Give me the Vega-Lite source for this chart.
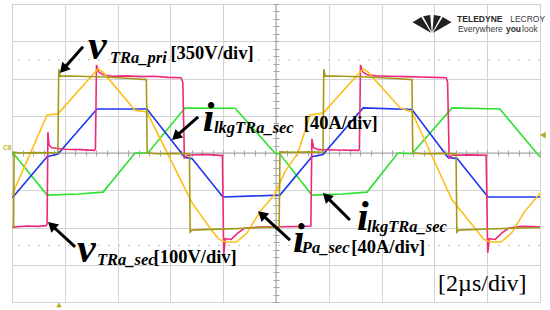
{
"$schema":"https://vega.github.io/schema/vega-lite/v6.json",
"width":528,"height":298,
"autosize":{"type":"none"},
"padding":{"left":12,"top":4,"right":10,"bottom":8},
"background":"white",
"config":{"view":{"stroke":"#9c9c9c","strokeWidth":1},"axis":{"title":null,"labels":false}},
"datasets":{
"traces":[
{"s":"a_green","t":0,"v":0},{"s":"a_green","t":0.04,"v":0},{"s":"a_green","t":1.33,"v":-1.13},{"s":"a_green","t":2.5,"v":-1.1},{"s":"a_green","t":3.45,"v":-1.05},{"s":"a_green","t":4.66,"v":0},{"s":"a_green","t":5.15,"v":0},{"s":"a_green","t":6.55,"v":1.21},{"s":"a_green","t":8.45,"v":1.2},{"s":"a_green","t":9.96,"v":0},{"s":"a_green","t":10.15,"v":-0.03},{"s":"a_green","t":11.36,"v":-1.13},{"s":"a_green","t":12.5,"v":-1.1},{"s":"a_green","t":13.45,"v":-1.05},{"s":"a_green","t":14.62,"v":0},{"s":"a_green","t":15.15,"v":-0.02},{"s":"a_green","t":16.67,"v":1.21},{"s":"a_green","t":18.48,"v":1.18},{"s":"a_green","t":20,"v":-0.11},
{"s":"b_blue","t":0,"v":-1.18},{"s":"b_blue","t":0.04,"v":-1.18},{"s":"b_blue","t":1.33,"v":-0.1},{"s":"b_blue","t":1.74,"v":-0.03},{"s":"b_blue","t":3.22,"v":1.18},{"s":"b_blue","t":5.11,"v":1.18},{"s":"b_blue","t":6.55,"v":-0.12},{"s":"b_blue","t":6.82,"v":-0.15},{"s":"b_blue","t":7.99,"v":-1.18},{"s":"b_blue","t":10.15,"v":-1.13},{"s":"b_blue","t":11.36,"v":-0.1},{"s":"b_blue","t":11.78,"v":-0.04},{"s":"b_blue","t":13.3,"v":1.21},{"s":"b_blue","t":15.15,"v":1.17},{"s":"b_blue","t":16.52,"v":-0.12},{"s":"b_blue","t":16.86,"v":-0.15},{"s":"b_blue","t":18.03,"v":-1.18},{"s":"b_blue","t":20,"v":-1.18},
{"s":"c_sec","t":0,"v":-1.99},{"s":"c_sec","t":0.6,"v":-1.96},{"s":"c_sec","t":1.0,"v":-1.97},{"s":"c_sec","t":1.3,"v":-1.95},{"s":"c_sec","t":1.33,"v":-1.9},{"s":"c_sec","t":1.36,"v":0.56},{"s":"c_sec","t":1.4,"v":0.22},{"s":"c_sec","t":1.5,"v":0.14},{"s":"c_sec","t":2.0,"v":0.1},{"s":"c_sec","t":2.6,"v":0.09},{"s":"c_sec","t":3.12,"v":0.07},{"s":"c_sec","t":3.16,"v":0.1},{"s":"c_sec","t":3.2,"v":2.36},{"s":"c_sec","t":3.28,"v":2.18},{"s":"c_sec","t":3.45,"v":2.1},{"s":"c_sec","t":3.8,"v":2.06},{"s":"c_sec","t":4.3,"v":2.07},{"s":"c_sec","t":4.9,"v":2.05},{"s":"c_sec","t":5.4,"v":2.06},{"s":"c_sec","t":5.9,"v":2.03},{"s":"c_sec","t":6.4,"v":2.02},{"s":"c_sec","t":6.47,"v":1.9},{"s":"c_sec","t":6.53,"v":-0.13},{"s":"c_sec","t":6.65,"v":-0.06},{"s":"c_sec","t":7.2,"v":-0.04},{"s":"c_sec","t":7.6,"v":-0.05},{"s":"c_sec","t":7.97,"v":-0.07},{"s":"c_sec","t":8.02,"v":-2.74},{"s":"c_sec","t":8.08,"v":-2.3},{"s":"c_sec","t":8.3,"v":-2.32},{"s":"c_sec","t":8.55,"v":-2.15},{"s":"c_sec","t":8.8,"v":-2.02},{"s":"c_sec","t":9.4,"v":-1.99},{"s":"c_sec","t":10.3,"v":-1.98},{"s":"c_sec","t":11.0,"v":-1.97},{"s":"c_sec","t":11.32,"v":-1.96},{"s":"c_sec","t":11.36,"v":0.38},{"s":"c_sec","t":11.42,"v":0.15},{"s":"c_sec","t":11.6,"v":0.09},{"s":"c_sec","t":12.3,"v":0.08},{"s":"c_sec","t":13.12,"v":0.07},{"s":"c_sec","t":13.16,"v":0.1},{"s":"c_sec","t":13.2,"v":2.36},{"s":"c_sec","t":13.28,"v":2.18},{"s":"c_sec","t":13.45,"v":2.1},{"s":"c_sec","t":13.8,"v":2.07},{"s":"c_sec","t":14.3,"v":2.06},{"s":"c_sec","t":14.9,"v":2.05},{"s":"c_sec","t":15.5,"v":2.04},{"s":"c_sec","t":16.0,"v":2.03},{"s":"c_sec","t":16.45,"v":2.02},{"s":"c_sec","t":16.5,"v":1.9},{"s":"c_sec","t":16.56,"v":-0.13},{"s":"c_sec","t":16.68,"v":-0.06},{"s":"c_sec","t":17.3,"v":-0.05},{"s":"c_sec","t":17.96,"v":-0.06},{"s":"c_sec","t":18.02,"v":-2.68},{"s":"c_sec","t":18.08,"v":-2.3},{"s":"c_sec","t":18.3,"v":-2.32},{"s":"c_sec","t":18.55,"v":-2.15},{"s":"c_sec","t":18.8,"v":-2.02},{"s":"c_sec","t":19.3,"v":-1.97},{"s":"c_sec","t":20,"v":-1.98},
{"s":"d_ipa","t":0,"v":-1.13},{"s":"d_ipa","t":1.33,"v":1.02},{"s":"d_ipa","t":1.74,"v":1.05},{"s":"d_ipa","t":3.26,"v":2.26},{"s":"d_ipa","t":3.45,"v":2.17},{"s":"d_ipa","t":4.66,"v":1.15},{"s":"d_ipa","t":5.11,"v":1.1},{"s":"d_ipa","t":6.82,"v":-1.34},{"s":"d_ipa","t":7.61,"v":-2.12},{"s":"d_ipa","t":7.85,"v":-2.32},{"s":"d_ipa","t":8.1,"v":-2.39},{"s":"d_ipa","t":8.5,"v":-2.39},{"s":"d_ipa","t":8.9,"v":-2.15},{"s":"d_ipa","t":9.39,"v":-1.58},{"s":"d_ipa","t":9.96,"v":-1.1},{"s":"d_ipa","t":10.34,"v":-0.5},{"s":"d_ipa","t":10.83,"v":0},{"s":"d_ipa","t":11.29,"v":1.02},{"s":"d_ipa","t":11.78,"v":1.07},{"s":"d_ipa","t":13.3,"v":2.26},{"s":"d_ipa","t":13.49,"v":2.17},{"s":"d_ipa","t":14.7,"v":1.21},{"s":"d_ipa","t":15.15,"v":1.1},{"s":"d_ipa","t":16.66,"v":-1.25},{"s":"d_ipa","t":17.65,"v":-2.12},{"s":"d_ipa","t":17.87,"v":-2.32},{"s":"d_ipa","t":18.12,"v":-2.39},{"s":"d_ipa","t":18.52,"v":-2.39},{"s":"d_ipa","t":18.92,"v":-2.15},{"s":"d_ipa","t":19.41,"v":-1.58},{"s":"d_ipa","t":20,"v":-1.08},
{"s":"e_pri","t":0,"v":-2.0},{"s":"e_pri","t":0.06,"v":-2.0},{"s":"e_pri","t":0.08,"v":0.02},{"s":"e_pri","t":0.3,"v":0},{"s":"e_pri","t":1.0,"v":0.01},{"s":"e_pri","t":1.74,"v":0},{"s":"e_pri","t":1.77,"v":2.25},{"s":"e_pri","t":1.82,"v":2.07},{"s":"e_pri","t":2.5,"v":2.06},{"s":"e_pri","t":3.5,"v":2.04},{"s":"e_pri","t":4.5,"v":2.0},{"s":"e_pri","t":5.09,"v":1.97},{"s":"e_pri","t":5.12,"v":0},{"s":"e_pri","t":5.5,"v":-0.02},{"s":"e_pri","t":6.2,"v":-0.01},{"s":"e_pri","t":6.72,"v":-0.02},{"s":"e_pri","t":6.75,"v":-2.12},{"s":"e_pri","t":6.82,"v":-2.07},{"s":"e_pri","t":7.5,"v":-2.05},{"s":"e_pri","t":8.5,"v":-2.03},{"s":"e_pri","t":9.5,"v":-2.0},{"s":"e_pri","t":10.12,"v":-1.99},{"s":"e_pri","t":10.15,"v":0.03},{"s":"e_pri","t":10.6,"v":0.02},{"s":"e_pri","t":11.3,"v":0.03},{"s":"e_pri","t":11.78,"v":0.02},{"s":"e_pri","t":11.81,"v":2.25},{"s":"e_pri","t":11.86,"v":2.07},{"s":"e_pri","t":12.5,"v":2.06},{"s":"e_pri","t":13.5,"v":2.04},{"s":"e_pri","t":14.5,"v":2.0},{"s":"e_pri","t":15.15,"v":1.97},{"s":"e_pri","t":15.18,"v":0},{"s":"e_pri","t":15.6,"v":-0.02},{"s":"e_pri","t":16.3,"v":-0.01},{"s":"e_pri","t":16.82,"v":-0.02},{"s":"e_pri","t":16.85,"v":-2.12},{"s":"e_pri","t":16.92,"v":-2.07},{"s":"e_pri","t":18,"v":-2.04},{"s":"e_pri","t":19,"v":-2.02},{"s":"e_pri","t":20,"v":-2.0}
],
"dots":[{"v":2.5},{"v":-2.48}],
"cx":[{"t":10}],
"cy":[{"v":0}],
"big":[{"t":2.88,"v":2.52,"s":"v"},{"t":7.23,"v":0.59,"s":"i"},{"t":2.46,"v":-2.93,"s":"v"},{"t":13.07,"v":-2.07,"s":"i"},{"t":10.64,"v":-2.66,"s":"i"}],
"sub":[{"t":3.71,"v":2.42,"s":"TRa_pri"},{"t":7.65,"v":0.54,"s":"lkgTRa_sec"},{"t":3.22,"v":-3.01,"s":"TRa_sec"},{"t":13.45,"v":-2.12,"s":"lkgTRa_sec"},{"t":10.98,"v":-2.68,"s":"Pa_sec"}],
"br":[{"t":6.0,"v":2.52,"s":"[350V/div]"},{"t":11.05,"v":0.64,"s":"[40A/div]"},{"t":5.36,"v":-2.96,"s":"[100V/div]"},{"t":12.85,"v":-2.68,"s":"[40A/div]"}],
"scalelab":[{"t":16.14,"v":-3.7,"s":"[2µs/div]"}],
"logob":[{"t":16.86,"v":3.52,"s":"TELEDYNE"},{"t":18.71,"v":3.24,"s":"you"}],
"logor":[{"t":18.87,"v":3.52,"s":"LECROY"},{"t":16.89,"v":3.24,"s":"Everywhere"},{"t":19.32,"v":3.24,"s":"look"}],
"logoicon":[{"t":15.91,"v":3.46}],
"arrows":[{"t":2.69,"v":2.85,"t2":1.94,"v2":2.25,"a":221.5},{"t":7.05,"v":0.97,"t2":6.2,"v2":0.44,"a":228.5},{"t":2.39,"v":-2.52,"t2":1.5,"v2":-1.94,"a":312.8},{"t":12.8,"v":-1.8,"t2":11.91,"v2":-1.17,"a":315},{"t":10.53,"v":-2.34,"t2":9.46,"v2":-1.65,"a":312.2}],
"chlab":[{"t":-0.34,"v":0.08,"s":"C8"}],
"mright":[{"t":20.11,"v":0.48}],
"mbottom":[{"t":1.78,"v":-4.08}]
},
"layer":[
{"data":{"name":"dots"},"mark":{"type":"rule","color":"#bdbdbd","strokeDash":[2,8],"strokeWidth":1},
 "encoding":{"y":{"field":"v","type":"quantitative","scale":{"domain":[-4,4],"nice":false,"zero":false},"axis":null}}},
{"data":{"name":"cx"},"mark":{"type":"rule","color":"#a6a6a6","strokeWidth":1},
 "encoding":{"x":{"field":"t","type":"quantitative","scale":{"domain":[0,20],"nice":false,"zero":false},
   "axis":{"orient":"top","offset":-152,"values":[0,0.4,0.8,1.2,1.6,2,2.4,2.8,3.2,3.6,4,4.4,4.8,5.2,5.6,6,6.4,6.8,7.2,7.6,8,8.4,8.8,9.2,9.6,10,10.4,10.8,11.2,11.6,12,12.4,12.8,13.2,13.6,14,14.4,14.8,15.2,15.6,16,16.4,16.8,17.2,17.6,18,18.4,18.8,19.2,19.6,20],"tickSize":6,"tickColor":"#a6a6a6","tickWidth":1,"domain":false,"grid":false,"labels":false,"title":null}}}},
{"data":{"name":"cy"},"mark":{"type":"rule","color":"#a6a6a6","strokeWidth":1},
 "encoding":{"y":{"field":"v","type":"quantitative","scale":{"domain":[-4,4],"nice":false,"zero":false},
   "axis":{"orient":"right","offset":-267,"values":[-4,-3.8,-3.6,-3.4,-3.2,-3,-2.8,-2.6,-2.4,-2.2,-2,-1.8,-1.6,-1.4,-1.2,-1,-0.8,-0.6,-0.4,-0.2,0,0.2,0.4,0.6,0.8,1,1.2,1.4,1.6,1.8,2,2.2,2.4,2.6,2.8,3,3.2,3.4,3.6,3.8,4],"tickSize":6,"tickColor":"#a6a6a6","tickWidth":1,"domain":false,"grid":false,"labels":false,"title":null}}}},
{"data":{"name":"traces"},"mark":{"type":"line","strokeWidth":1.6,"interpolate":"linear"},
 "encoding":{
  "x":{"field":"t","type":"quantitative","scale":{"domain":[0,20],"nice":false,"zero":false},
   "axis":{"orient":"bottom","grid":true,"values":[0,2,4,6,8,10,12,14,16,18,20],"gridColor":"#d3d3d3","gridWidth":1,"labels":false,"ticks":false,"domain":false,"title":null}},
  "y":{"field":"v","type":"quantitative","scale":{"domain":[-4,4],"nice":false,"zero":false},
   "axis":{"orient":"left","grid":true,"values":[-4,-3,-2,-1,0,1,2,3,4],"gridColor":"#d3d3d3","gridWidth":1,"labels":false,"ticks":false,"domain":false,"title":null}},
  "color":{"field":"s","type":"nominal","scale":{"domain":["a_green","b_blue","c_sec","d_ipa","e_pri"],"range":["#2fe02f","#1b36f0","#f0287c","#fdbf17","#a39a1c"]},"legend":null},
  "order":{"value":null}}},
{"data":{"name":"arrows"},"mark":{"type":"rule","color":"black","strokeWidth":3},
 "encoding":{"x":{"field":"t","type":"quantitative","axis":null},"y":{"field":"v","type":"quantitative","axis":null},"x2":{"field":"t2"},"y2":{"field":"v2"}}},
{"data":{"name":"arrows"},"mark":{"type":"point","shape":"triangle-up","filled":true,"color":"black","opacity":1,"size":130,"strokeWidth":0},
 "encoding":{"x":{"field":"t2","type":"quantitative","axis":null},"y":{"field":"v2","type":"quantitative","axis":null},"angle":{"field":"a","type":"quantitative","scale":null}}},
{"data":{"name":"big"},"mark":{"type":"text","font":"Liberation Serif","fontSize":42,"fontStyle":"italic","fontWeight":"bold","align":"left","baseline":"alphabetic","color":"black"},
 "encoding":{"x":{"field":"t","type":"quantitative","axis":null},"y":{"field":"v","type":"quantitative","axis":null},"text":{"field":"s"}}},
{"data":{"name":"sub"},"mark":{"type":"text","font":"Liberation Serif","fontSize":16.5,"fontStyle":"italic","fontWeight":"bold","align":"left","baseline":"alphabetic","color":"black"},
 "encoding":{"x":{"field":"t","type":"quantitative","axis":null},"y":{"field":"v","type":"quantitative","axis":null},"text":{"field":"s"}}},
{"data":{"name":"br"},"mark":{"type":"text","font":"Liberation Serif","fontSize":18.5,"fontWeight":"bold","align":"left","baseline":"alphabetic","color":"black"},
 "encoding":{"x":{"field":"t","type":"quantitative","axis":null},"y":{"field":"v","type":"quantitative","axis":null},"text":{"field":"s"}}},
{"data":{"name":"scalelab"},"mark":{"type":"text","font":"Liberation Serif","fontSize":24,"align":"left","baseline":"alphabetic","color":"black"},
 "encoding":{"x":{"field":"t","type":"quantitative","axis":null},"y":{"field":"v","type":"quantitative","axis":null},"text":{"field":"s"}}},
{"data":{"name":"logob"},"mark":{"type":"text","font":"Liberation Sans","fontSize":8.5,"fontWeight":"bold","align":"left","baseline":"alphabetic","color":"#2a2a2a"},
 "encoding":{"x":{"field":"t","type":"quantitative","axis":null},"y":{"field":"v","type":"quantitative","axis":null},"text":{"field":"s"}}},
{"data":{"name":"logor"},"mark":{"type":"text","font":"Liberation Sans","fontSize":8.5,"align":"left","baseline":"alphabetic","color":"#3a3a3a"},
 "encoding":{"x":{"field":"t","type":"quantitative","axis":null},"y":{"field":"v","type":"quantitative","axis":null},"text":{"field":"s"}}},
{"data":{"name":"logoicon"},"mark":{"type":"point","shape":"M-1,-0.1L-0.55,-0.36L-0.04,0.46ZM-0.46,-0.4L-0.09,-0.47L-0.02,0.4ZM0.46,-0.4L0.09,-0.47L0.02,0.4ZM1,-0.1L0.55,-0.36L0.04,0.46Z","filled":true,"color":"#222222","opacity":1,"size":1521,"strokeWidth":0},
 "encoding":{"x":{"field":"t","type":"quantitative","axis":null},"y":{"field":"v","type":"quantitative","axis":null}}},
{"data":{"name":"chlab"},"mark":{"type":"text","font":"Liberation Sans","fontSize":6.5,"fontWeight":"bold","align":"left","baseline":"alphabetic","color":"#c2b21a"},
 "encoding":{"x":{"field":"t","type":"quantitative","axis":null},"y":{"field":"v","type":"quantitative","axis":null},"text":{"field":"s"}}},
{"data":{"name":"mright"},"mark":{"type":"point","shape":"triangle-left","filled":true,"color":"#b8aa22","opacity":1,"size":45,"strokeWidth":0},
 "encoding":{"x":{"field":"t","type":"quantitative","axis":null},"y":{"field":"v","type":"quantitative","axis":null}}},
{"data":{"name":"mbottom"},"mark":{"type":"point","shape":"triangle-up","filled":true,"color":"#b8aa22","opacity":1,"size":30,"strokeWidth":0},
 "encoding":{"x":{"field":"t","type":"quantitative","axis":null},"y":{"field":"v","type":"quantitative","axis":null}}}
],
"resolve":{"axis":{"x":"independent","y":"independent"}}
}
